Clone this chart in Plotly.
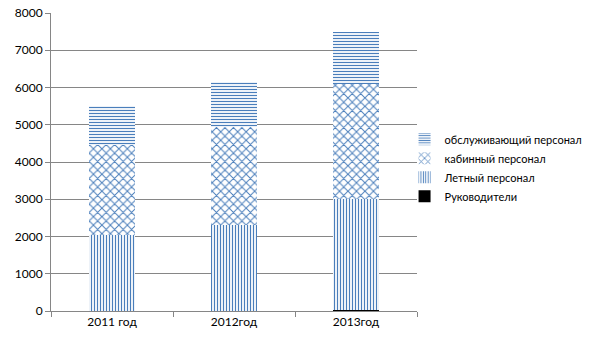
import plotly.graph_objects as go

categories = ["2011 год", "2012год", "2013год"]
leaders = [0, 0, 35]
flight_staff = [2050, 2310, 2975]
cabin_staff = [2410, 2630, 3090]
service_staff = [1050, 1200, 1400]

BLUE = "#4A7EBB"
FONT = "Lato"

fig = go.Figure()

def add(name, vals, shape, size, solidity, color=BLUE):
    fig.add_trace(go.Bar(
        x=categories, y=vals, name=name,
        marker=dict(
            color=color,
            line=dict(width=0),
            pattern=dict(shape=shape, size=size, solidity=solidity,
                         fgcolor=color, bgcolor="white", fillmode="replace") if shape else None,
        ),
    ))

add("Руководители", leaders, "", 0, 0, color="#000000")
add("Летный персонал", flight_staff, "|", 3, 0.4)
add("кабинный персонал", cabin_staff, "x", 6, 0.3)
add("обслуживающий персонал", service_staff, "-", 3, 0.4)

fig.update_layout(
    barmode="stack",
    bargap=0.62,
    width=605, height=340,
    margin=dict(l=51, r=188, t=13, b=29, autoexpand=False),
    paper_bgcolor="white", plot_bgcolor="white",
    font=dict(family=FONT, size=12, color="#000000"),
    legend=dict(x=0.966, y=0.625, xanchor="left", yanchor="top",
                font=dict(size=11), traceorder="reversed",
                bgcolor="rgba(0,0,0,0)", itemwidth=30, tracegroupgap=0),
    showlegend=True,
)
fig.update_yaxes(range=[0, 8000], dtick=1000, showgrid=True, gridcolor="#868686",
                 gridwidth=1, showline=True, linecolor="#868686", linewidth=1,
                 ticks="outside", ticklen=5, tickcolor="#868686", zeroline=False,
                 tickfont=dict(size=12), automargin=False)
fig.update_xaxes(showline=True, linecolor="#868686", linewidth=1, ticks="outside",
                 tickson="boundaries", ticklen=5, tickcolor="#868686",
                 tickfont=dict(size=12), automargin=False)

fig.write_html("out.html")
